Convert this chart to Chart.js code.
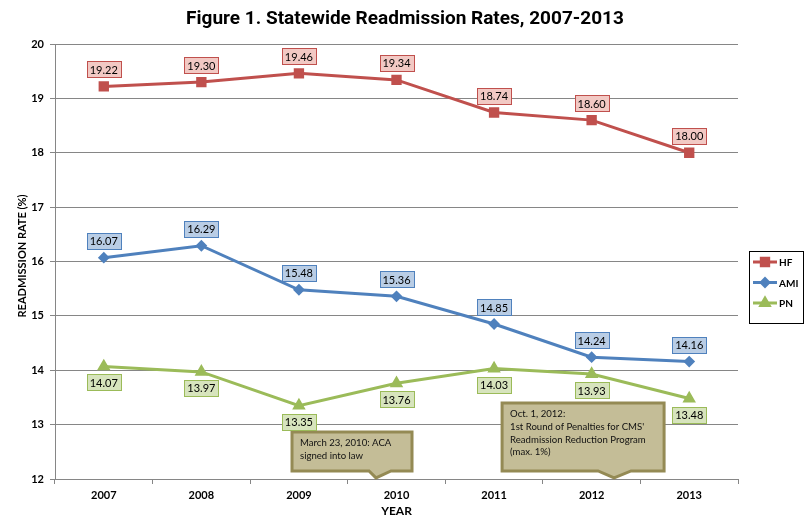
<!DOCTYPE html>
<html><head><meta charset="utf-8">
<script src="https://cdn.jsdelivr.net/npm/chart.js@4.4.0/dist/chart.umd.min.js"></script>
<style>html,body{margin:0;padding:0;background:#fff}</style>
</head><body>
<canvas id="c" width="809" height="532"></canvas>
<script>
const years = ['2007','2008','2009','2010','2011','2012','2013'];
const hfRates  = [19.22, 19.30, 19.46, 19.34, 18.74, 18.60, 18.00];
const amiRates = [16.07, 16.29, 15.48, 15.36, 14.85, 14.24, 14.16];
const pnRates  = [14.07, 13.97, 13.35, 13.76, 14.03, 13.93, 13.48];
const seriesNames = ['HF', 'AMI', 'PN'];
const yMin = 12, yMax = 20, yStep = 1;
const titleText = 'Figure 1. Statewide Readmission Rates, 2007-2013';
const yTitle = 'READMISSION RATE (%)';
const xTitle = 'YEAR';
const callout1Lines = ['March 23, 2010: ACA', 'signed into law'];
const callout2Lines = ['Oct. 1, 2012:', "1st Round of Penalties for CMS'", 'Readmission Reduction Program', '(max. 1%)'];

const GRID = '#868686';
const styles = [
  {line:'#C0504D', fill:'#F2C9C4', pt:'rect', r:5.2, pos:'above'},
  {line:'#4F81BD', fill:'#B9CDE5', pt:'rectRot', r:3.8, pos:'above'},
  {line:'#9BBB59', fill:'#D7E4BD', pt:'triangle', r:4.8, pos:'below'}
];
const FONT = 'Lato, "Open Sans", sans-serif';

function fracX(xs, f){
  const i = Math.floor(f), d = f - i;
  const a = xs.getPixelForValue(i), b = xs.getPixelForValue(i+1);
  return a + (b - a) * d;
}

function drawCallout(ctx, tipX, tipY, box, base, lines){
  const L = tipX + box.l, R = tipX + box.r, T = tipY + box.t, B = tipY + box.b;
  ctx.save();
  ctx.beginPath();
  ctx.moveTo(L, T); ctx.lineTo(R, T); ctx.lineTo(R, B);
  ctx.lineTo(tipX + base[1], B); ctx.lineTo(tipX, tipY); ctx.lineTo(tipX + base[0], B);
  ctx.lineTo(L, B); ctx.closePath();
  ctx.fillStyle = '#C4BD97'; ctx.fill();
  ctx.lineWidth = 3; ctx.strokeStyle = '#948A54'; ctx.lineJoin = 'miter'; ctx.stroke();
  ctx.fillStyle = '#111';
  ctx.font = '9.6px ' + FONT;
  ctx.textAlign = 'left'; ctx.textBaseline = 'middle';
  lines.forEach((t, k) => ctx.fillText(t, L + 8, T + 11 + k * 12.8));
  ctx.restore();
}

const extras = {
  id: 'extras',
  afterDatasetsDraw(chart){
    const ctx = chart.ctx;
    const xs = chart.scales.x, ys = chart.scales.y;
    drawCallout(ctx, fracX(xs, 2.79), ys.getPixelForValue(12.02), {l:-84, r:36, t:-46, b:-7}, [-7, 15], callout1Lines);
    drawCallout(ctx, fracX(xs, 5.23), ys.getPixelForValue(12.02), {l:-112, r:50, t:-75, b:-7}, [-16, 17], callout2Lines);
    chart.data.datasets.forEach((ds, di) => {
      const st = styles[di];
      const meta = chart.getDatasetMeta(di);
      ctx.save();
      ctx.font = '11px ' + FONT;
      meta.data.forEach((p, i) => {
        const txt = ds.data[i].toFixed(2);
        const w = Math.round(ctx.measureText(txt).width + 6), h = 16;
        const cy = st.pos === 'above' ? p.y - 17 : p.y + 16;
        const x0 = Math.round(p.x - w/2) + 0.5, y0 = Math.round(cy - h/2) + 0.5;
        ctx.fillStyle = st.fill; ctx.fillRect(x0, y0, w, h);
        ctx.strokeStyle = st.line; ctx.lineWidth = 1; ctx.strokeRect(x0, y0, w, h);
        ctx.fillStyle = '#000'; ctx.textAlign = 'center'; ctx.textBaseline = 'middle';
        ctx.fillText(txt, p.x, cy + 1);
      });
      ctx.restore();
    });
  },
  afterDraw(chart){
    const ctx = chart.ctx;
    const ca = chart.chartArea;
    ctx.save();
    ctx.fillStyle = '#000';
    ctx.font = 'bold 19px Roboto, "Liberation Sans", sans-serif';
    ctx.textAlign = 'center'; ctx.textBaseline = 'middle';
    ctx.fillText(titleText, 405, 19);
    ctx.font = 'bold 11px ' + FONT;
    ctx.save();
    ctx.translate(22, 256);
    ctx.rotate(-Math.PI/2);
    ctx.fillText(yTitle, 0, 0);
    ctx.restore();
    ctx.font = 'bold 12px ' + FONT;
    ctx.fillText(xTitle, (ca.left + ca.right) / 2, 511);
    const lx = 749, ly = 251, lw = 54, lh = 72;
    ctx.strokeStyle = '#000'; ctx.lineWidth = 1;
    ctx.strokeRect(lx + 0.5, ly + 0.5, lw, lh);
    chart.data.datasets.forEach((ds, di) => {
      const st = styles[di];
      const y = ly + 11 + di * 20.5;
      ctx.strokeStyle = st.line; ctx.lineWidth = 3;
      ctx.beginPath(); ctx.moveTo(753, y); ctx.lineTo(777, y); ctx.stroke();
      ctx.fillStyle = st.line;
      Chart.helpers.drawPoint(ctx, {pointStyle: st.pt, radius: st.r, borderWidth: 1}, 765, y);
      ctx.fillStyle = '#000';
      ctx.font = 'bold 10px ' + FONT;
      ctx.textAlign = 'left'; ctx.textBaseline = 'middle';
      ctx.fillText(ds.label, 779, y + 1);
    });
    ctx.restore();
  }
};

const seriesData = [hfRates, amiRates, pnRates];
new Chart(document.getElementById('c'), {
  type: 'line',
  data: {
    labels: years,
    datasets: seriesData.map((d, i) => ({
      label: seriesNames[i],
      data: d,
      borderColor: styles[i].line,
      backgroundColor: styles[i].line,
      pointBackgroundColor: styles[i].line,
      pointBorderColor: styles[i].line,
      pointStyle: styles[i].pt,
      pointRadius: styles[i].r,
      borderWidth: 3,
      tension: 0,
      fill: false
    }))
  },
  options: {
    responsive: false,
    animation: false,
    devicePixelRatio: 1,
    layout: {padding: {top: 44, right: 71, bottom: 0, left: 0}},
    plugins: {legend: {display: false}, title: {display: false}, tooltip: {enabled: false}},
    scales: {
      x: {
        type: 'category',
        offset: true,
        grid: {display: true, drawOnChartArea: false, drawTicks: true, tickLength: 5, color: GRID, offset: true},
        border: {color: GRID, width: 1},
        ticks: {color: '#000', font: {family: FONT, size: 11, weight: 'bold'}, padding: 5},
        afterFit: s => { s.height = 53; }
      },
      y: {
        min: yMin, max: yMax,
        grid: {color: GRID, tickLength: 5, lineWidth: 1},
        border: {color: GRID, width: 1},
        ticks: {stepSize: yStep, color: '#000', font: {family: FONT, size: 11, weight: 'bold'}, padding: 6},
        afterFit: s => { s.width = 55; }
      }
    }
  },
  plugins: [extras]
});
</script>
</body></html>
